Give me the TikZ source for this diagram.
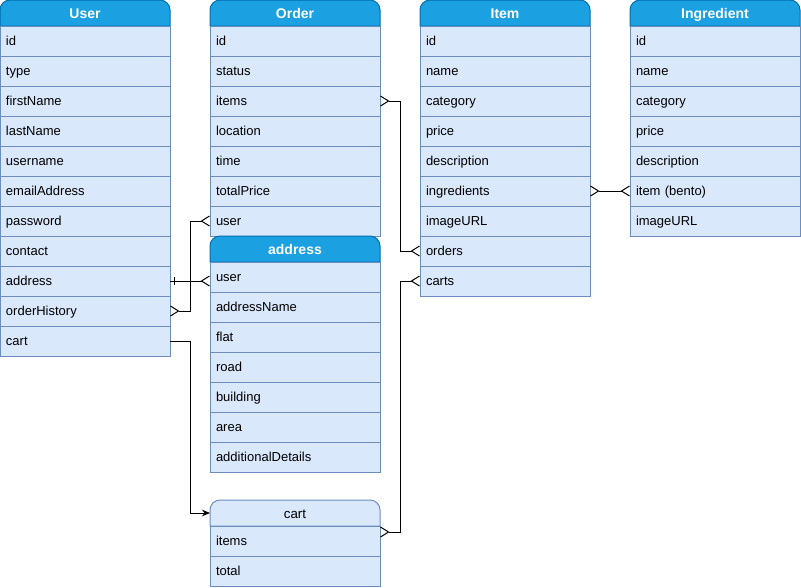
\documentclass[tikz,border=0pt]{standalone}
\usepackage{fontspec}
\setmainfont{Liberation Sans}
\usetikzlibrary{arrows.meta}

\definecolor{headfill}{HTML}{1BA1E2}
\definecolor{headline}{HTML}{006EAF}
\definecolor{rowfill}{HTML}{DAE8FC}
\definecolor{rowline}{HTML}{6C8EBF}

\tikzset{
  headbox/.style={fill=headfill, draw=headline, line width=0.75pt},
  headtext/.style={text=white, font=\fontsize{10.5}{12}\selectfont\bfseries,
    minimum width=127.5pt, minimum height=19.5pt, inner sep=0pt, outer sep=0pt,
    text height=10.4pt, text depth=2pt},
  cartbox/.style={fill=rowfill, draw=rowline, line width=0.75pt},
  carttext/.style={font=\fontsize{10}{12}\selectfont,
    minimum width=127.5pt, minimum height=19.5pt, inner sep=0pt, outer sep=0pt,
    text height=10pt, text depth=2pt},
  rowbox/.style={fill=rowfill, draw=rowline, line width=0.75pt,
    minimum width=127.5pt, minimum height=22.5pt, text width=118.5pt, align=left,
    inner xsep=4.5pt, inner ysep=0pt, outer sep=0pt, font=\fontsize{9.75}{12}\selectfont,
    text height=9.2pt, text depth=2pt},
  link/.style={draw=black, line width=0.75pt},
  crow/.tip={Straight Barb[reversed, length=6pt, width=7.5pt]}
}

% name, left x, top y, title, head style, fields
\newcommand{\erentity}[6]{%
  \path[#5box] (#2,#3+26) [rounded corners=7.5pt] |- (#2+170,#3) [sharp corners] -- (#2+170,#3+26) -- cycle;
  \node[#5text] (#1) at (#2+85,#3+13) {#4};
  \foreach \f [count=\i] in {#6}
    \node[rowbox] (#1-\i) at (#2+85,#3+11+30*\i) {\f};
}

\begin{document}
\begin{tikzpicture}[x=0.75pt, y=-0.75pt]
  \useasboundingbox (0,0) rectangle (801,587);

  \erentity{user}{0}{0}{User}{head}{id, type, firstName, lastName, username, emailAddress, password, contact, address, orderHistory, cart}
  \erentity{order}{210}{0}{Order}{head}{id, status, items, location, time, totalPrice, user}
  \erentity{item}{420}{0}{Item}{head}{id, name, category, price, description, ingredients, imageURL, orders, carts}
  \erentity{ingredient}{630}{0}{Ingredient}{head}{id, name, category, price, description, item (bento), imageURL}
  \erentity{address}{210}{236}{address}{head}{user, addressName, flat, road, building, area, additionalDetails}
  \erentity{cart}{210}{500}{cart}{cart}{items, total}

  % relations
  \draw[link, {crow}-{crow}] (order-3.east) -- ++(20,0) |- (item-8.west);
  \draw[link, {crow}-{crow}] (order-7.west) -- ++(-20,0) |- (user-10.east);
  \draw[link, -{crow}] (user-9.east) -- (user-9.east -| address-1.west);
  \draw[link] ([xshift=3pt, yshift=3pt]user-9.east) -- ([xshift=3pt, yshift=-3pt]user-9.east);
  \draw[link, -{Stealth[length=6pt, width=5pt]}] (user-11.east) -- ++(20,0) |- (cart.west);
  \draw[link, {crow}-{crow}] ([yshift=6.75pt]cart-1.east) -- ++(20,0) |- (item-9.west);
  \draw[link, {crow}-{crow}] (item-6.east) -- (ingredient-6.west);
\end{tikzpicture}
\end{document}
